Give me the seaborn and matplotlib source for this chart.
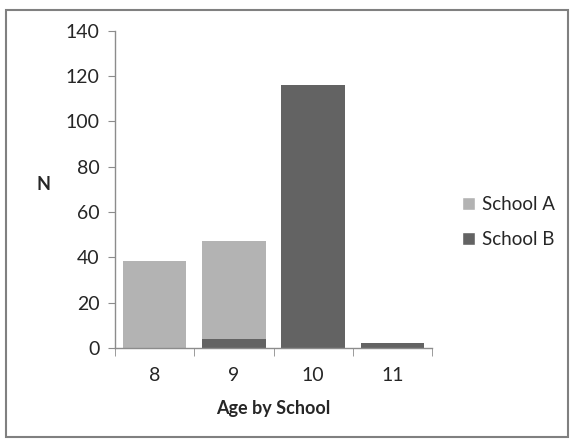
import matplotlib
matplotlib.use("Agg")
import matplotlib.pyplot as plt
import seaborn as sns
import numpy as np
from matplotlib.patches import Patch, Rectangle

# --- data ---
ages = ["8", "9", "10", "11"]
school_a = [38.5, 47, 0, 0]
school_b = [0, 4, 116, 2]

COLOR_A = "#b3b3b3"
COLOR_B = "#636363"
AXIS_GREY = "#8c8c8c"

sns.set_style("white")
plt.rcParams["font.family"] = ["Lato", "DejaVu Sans"]

fig = plt.figure(figsize=(5.74, 4.42), dpi=100)
ax = fig.add_axes([0.2, 0.213, 0.553, 0.717])

# School A behind, School B drawn over it (full overlap)
sns.barplot(x=ages, y=school_a, color=COLOR_A, width=0.8, ax=ax,
            saturation=1, linewidth=0)
sns.barplot(x=ages, y=school_b, color=COLOR_B, width=0.8, ax=ax,
            saturation=1, linewidth=0)

ax.set_ylim(0, 140)
ax.set_yticks(np.arange(0, 141, 20))
ax.set_xlim(-0.5, 3.5)

for s in ["top", "right"]:
    ax.spines[s].set_visible(False)
for s in ["left", "bottom"]:
    ax.spines[s].set_color(AXIS_GREY)
    ax.spines[s].set_linewidth(1)

ax.tick_params(axis="y", direction="out", length=5, color=AXIS_GREY,
               labelsize=14, pad=6, left=True)
ax.tick_params(axis="x", which="major", length=0, labelsize=14, pad=14)
ax.set_xticks(np.arange(-0.5, 3.6, 1), minor=True)
ax.tick_params(axis="x", which="minor", direction="out", length=6,
               color=AXIS_GREY, bottom=True)

ax.set_xlabel("Age by School", fontsize=13, fontweight="bold", labelpad=11)
ax.set_ylabel("N", fontsize=13, fontweight="bold", rotation=0, labelpad=0)
ax.yaxis.set_label_coords(-0.225, 0.49)

handles = [Patch(facecolor=COLOR_A, label="School A"),
           Patch(facecolor=COLOR_B, label="School B")]
fig.legend(handles=handles, loc="center left", bbox_to_anchor=(0.775, 0.497),
           frameon=False, fontsize=13.5, handlelength=0.7, handleheight=0.7,
           handletextpad=0.4, labelspacing=0.95)

# outer chart border
fig.patches.append(Rectangle((0.011, 0.012), 0.978, 0.966, transform=fig.transFigure,
                             fill=False, edgecolor="#808080", linewidth=1.5))

fig.savefig("out.png", dpi=100)
